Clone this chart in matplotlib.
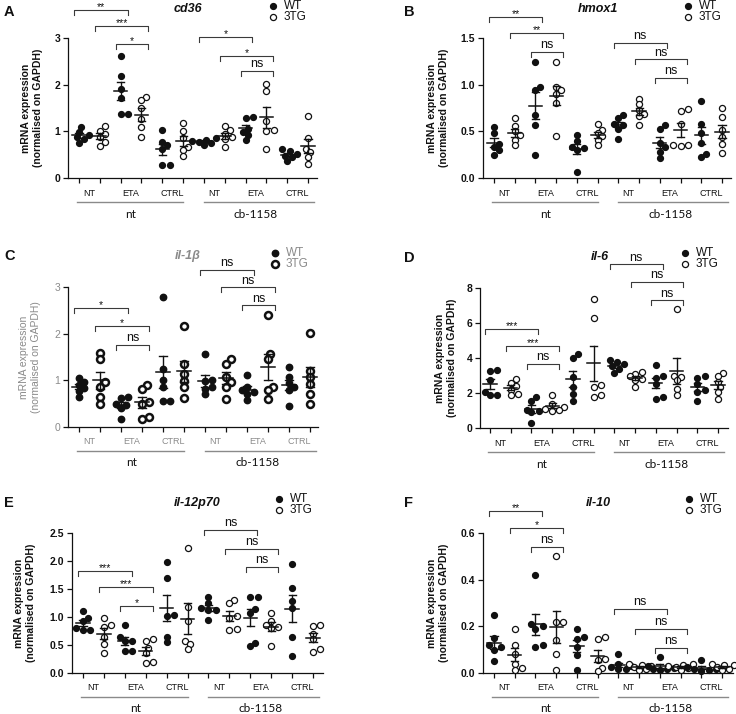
import matplotlib
matplotlib.use('Agg')
import matplotlib.pyplot as plt
import numpy as np

plt.rcParams['font.family'] = ['Liberation Sans', 'DejaVu Sans']

W, H = 736, 714

# ---------------- data ----------------
conditions = ['NT', 'ETA', 'CTRL']
treatments = ['nt', 'cb-1158']
genotypes = ['WT', '3TG']
ylabel_text = 'mRNA expression\n(normalised on GAPDH)'

# 12 groups: nt(NT WT, NT 3TG, ETA WT, ETA 3TG, CTRL WT, CTRL 3TG), cb-1158 (same order)
cd36 = [[1.10, 0.99, 0.93, 0.88, 0.83, 0.74],
        [1.11, 1.01, 0.95, 0.87, 0.78, 0.68],
        [2.62, 2.19, 1.90, 1.72, 1.37, 1.37],
        [1.74, 1.67, 1.49, 1.26, 1.10, 0.87],
        [1.03, 0.78, 0.70, 0.63, 0.27, 0.27],
        [1.17, 1.01, 0.85, 0.67, 0.60, 0.47],
        [0.85, 0.82, 0.80, 0.78, 0.75, 0.70],
        [1.11, 1.03, 0.95, 0.87, 0.83, 0.67],
        [1.31, 1.28, 1.06, 0.99, 0.92, 0.81],
        [2.02, 1.87, 1.23, 1.03, 1.01, 0.63],
        [0.62, 0.58, 0.52, 0.48, 0.45, 0.37],
        [1.33, 0.85, 0.63, 0.56, 0.45, 0.29]]

hmox1 = [[0.55, 0.48, 0.36, 0.33, 0.30, 0.25],
         [0.64, 0.56, 0.50, 0.46, 0.41, 0.35],
         [1.24, 0.98, 0.94, 0.67, 0.57, 0.25],
         [1.24, 0.97, 0.94, 0.90, 0.80, 0.45],
         [0.46, 0.40, 0.33, 0.32, 0.30, 0.065],
         [0.58, 0.51, 0.48, 0.45, 0.41, 0.35],
         [0.67, 0.64, 0.58, 0.57, 0.53, 0.42],
         [0.85, 0.79, 0.73, 0.69, 0.66, 0.57],
         [0.57, 0.52, 0.37, 0.33, 0.28, 0.21],
         [0.74, 0.72, 0.58, 0.35, 0.35, 0.34],
         [0.83, 0.58, 0.48, 0.37, 0.26, 0.23],
         [0.75, 0.65, 0.51, 0.44, 0.36, 0.27]]

il1b = [[1.05, 0.97, 0.90, 0.84, 0.78, 0.64],
        [1.59, 1.46, 0.96, 0.86, 0.64, 0.49],
        [0.64, 0.62, 0.50, 0.47, 0.40, 0.18],
        [0.91, 0.82, 0.54, 0.50, 0.21, 0.18],
        [2.79, 1.25, 1.00, 0.86, 0.56, 0.56],
        [2.16, 1.36, 1.14, 0.99, 0.86, 0.63],
        [1.56, 1.00, 0.99, 0.86, 0.82, 0.70],
        [1.46, 1.36, 1.07, 0.96, 0.86, 0.61],
        [1.11, 0.86, 0.79, 0.75, 0.71, 0.57],
        [2.41, 1.57, 1.46, 0.86, 0.79, 0.59],
        [1.29, 1.07, 0.94, 0.86, 0.79, 0.46],
        [2.01, 1.21, 1.07, 0.93, 0.71, 0.50]]

il6 = [[3.30, 3.24, 2.72, 2.06, 1.87, 1.87],
       [2.80, 2.60, 2.40, 2.20, 1.92, 1.87],
       [1.75, 1.55, 1.05, 0.95, 0.90, 0.28],
       [1.90, 1.39, 1.20, 1.10, 1.01, 0.97],
       [4.25, 4.02, 2.91, 2.34, 1.92, 1.52],
       [7.39, 6.30, 2.44, 2.34, 1.90, 1.77],
       [3.90, 3.77, 3.64, 3.52, 3.39, 3.14],
       [3.20, 3.10, 2.95, 2.82, 2.76, 2.34],
       [3.58, 3.00, 2.88, 2.53, 1.77, 1.68],
       [6.82, 3.00, 2.91, 2.72, 2.25, 1.87],
       [2.95, 2.88, 2.53, 2.15, 2.06, 1.52],
       [3.14, 3.00, 2.63, 2.34, 2.06, 1.68]]

il12p70 = [[1.11, 0.99, 0.92, 0.80, 0.77, 0.77],
           [0.99, 0.86, 0.82, 0.65, 0.51, 0.36],
           [0.85, 0.64, 0.58, 0.57, 0.40, 0.39],
           [0.60, 0.57, 0.45, 0.36, 0.20, 0.18],
           [1.98, 1.70, 1.04, 1.01, 0.65, 0.55],
           [2.23, 1.17, 0.93, 0.57, 0.51, 0.42],
           [1.35, 1.25, 1.16, 1.13, 1.13, 0.94],
           [1.31, 1.25, 1.01, 0.98, 0.78, 0.76],
           [1.35, 1.35, 1.14, 1.08, 0.54, 0.48],
           [1.07, 0.92, 0.86, 0.83, 0.80, 0.48],
           [1.95, 1.52, 1.29, 1.16, 0.65, 0.30],
           [0.85, 0.84, 0.70, 0.60, 0.42, 0.38]]

il10 = [[0.25, 0.15, 0.12, 0.11, 0.10, 0.05],
        [0.19, 0.12, 0.083, 0.04, 0.02, 0.012],
        [0.42, 0.21, 0.20, 0.19, 0.12, 0.11],
        [0.50, 0.22, 0.22, 0.14, 0.083, 0.014],
        [0.19, 0.155, 0.145, 0.11, 0.076, 0.012],
        [0.155, 0.145, 0.062, 0.055, 0.02, 0.007],
        [0.08, 0.04, 0.03, 0.026, 0.019, 0.016],
        [0.04, 0.036, 0.03, 0.026, 0.019, 0.012],
        [0.07, 0.03, 0.022, 0.019, 0.016, 0.012],
        [0.04, 0.036, 0.03, 0.026, 0.022, 0.012],
        [0.055, 0.026, 0.019, 0.016, 0.012, 0.007],
        [0.04, 0.036, 0.033, 0.026, 0.019, 0.012]]

# brackets: (group i, group j, label, height in data units)
cd36_brackets = [(0, 2, '**', 3.61), (1, 3, '***', 3.25), (2, 3, '*', 2.87),
                 (6, 8, '*', 3.02), (7, 9, '*', 2.61), (8, 9, 'ns', 2.30)]
hmox1_brackets = [(0, 2, '**', 1.73), (1, 3, '**', 1.55), (2, 3, 'ns', 1.35),
                  (6, 8, 'ns', 1.45), (7, 9, 'ns', 1.27), (8, 9, 'ns', 1.07)]
il1b_brackets = [(0, 2, '*', 2.54), (1, 3, '*', 2.16), (2, 3, 'ns', 1.76),
                 (6, 8, 'ns', 3.37), (7, 9, 'ns', 2.99), (8, 9, 'ns', 2.61)]
il6_brackets = [(0, 2, '***', 5.68), (1, 3, '***', 4.67), (2, 3, 'ns', 3.68),
                (6, 8, 'ns', 9.35), (7, 9, 'ns', 8.34), (8, 9, 'ns', 7.30)]
il12p70_brackets = [(0, 2, '***', 1.83), (1, 3, '***', 1.53), (2, 3, '*', 1.19),
                    (6, 8, 'ns', 2.56), (7, 9, 'ns', 2.22), (8, 9, 'ns', 1.89)]
il10_brackets = [(0, 2, '**', 0.696), (1, 3, '*', 0.62), (2, 3, 'ns', 0.54),
                 (6, 8, 'ns', 0.274), (7, 9, 'ns', 0.188), (8, 9, 'ns', 0.108)]

cd36_ticks = [0, 1, 2, 3]
hmox1_ticks = [0.0, 0.5, 1.0, 1.5]
il1b_ticks = [0, 1, 2, 3]
il6_ticks = [0, 2, 4, 6, 8]
il12p70_ticks = [0.0, 0.5, 1.0, 1.5, 2.0, 2.5]
il10_ticks = [0.0, 0.2, 0.4, 0.6]

# ---------------- layout ----------------
panels = [
    dict(letter='A', title='cd36', data=cd36, br=cd36_brackets, ticks=cd36_ticks, fmt='{:.0f}',
         box=(68, 38, 317, 178), t=(79, 308), letter_xy=(4, 12), title_xy=(188, 9),
         leg_xy=(273, 6), ylab_dx=-36, garbled=False),
    dict(letter='B', title='hmox1', data=hmox1, br=hmox1_brackets, ticks=hmox1_ticks, fmt='{:.1f}',
         box=(483, 38, 731, 178), t=(494, 722), letter_xy=(404, 12), title_xy=(598, 9),
         leg_xy=(688, 6), ylab_dx=-45, garbled=False),
    dict(letter='C', title='il-1β', data=il1b, br=il1b_brackets, ticks=il1b_ticks, fmt='{:.0f}',
         box=(68, 287, 318, 427), t=(79, 310), letter_xy=(4, 256), title_xy=(188, 256),
         leg_xy=(275, 253), ylab_dx=-38, garbled=True),
    dict(letter='D', title='il-6', data=il6, br=il6_brackets, ticks=il6_ticks, fmt='{:.0f}',
         box=(480, 288, 728, 428), t=(490, 718), letter_xy=(404, 258), title_xy=(600, 257),
         leg_xy=(685, 253), ylab_dx=-34, garbled=False),
    dict(letter='E', title='il-12p70', data=il12p70, br=il12p70_brackets, ticks=il12p70_ticks,
         fmt='{:.1f}', box=(72, 533, 323, 673), t=(83, 313), letter_xy=(4, 503),
         title_xy=(197, 503), leg_xy=(279, 499), ylab_dx=-47, garbled=False),
    dict(letter='F', title='il-10', data=il10, br=il10_brackets, ticks=il10_ticks, fmt='{:.1f}',
         box=(483, 533, 733, 673), t=(494, 722), letter_xy=(404, 503), title_xy=(598, 503),
         leg_xy=(689, 499), ylab_dx=-45, garbled=False),
]

fig = plt.figure(figsize=(W / 100, H / 100), dpi=100)
ov = fig.add_axes([0, 0, 1, 1])
ov.set_xlim(0, W)
ov.set_ylim(H, 0)
ov.axis('off')
ov.patch.set_alpha(0)

INK = '#111111'
BR = '#3a3a3a'
GRAY = '#8a8a8a'


def swarm(vals, ppu_x, ppu_y, d):
    vals = np.asarray(vals, float)
    order = np.argsort(vals)
    placed = []
    offs = np.zeros(len(vals))
    cands = [0.0]
    for k in range(1, 12):
        cands += [k * d * 0.45, -k * d * 0.45]
    for idx in order:
        y = vals[idx] * ppu_y
        for c in cands:
            if all((c - px) ** 2 + (y - py) ** 2 >= d * d for px, py in placed):
                break
        placed.append((c, y))
        offs[idx] = c / ppu_x
    return offs


for p in panels:
    L, T, R, B = p['box']
    t0, t11 = p['t']
    ax = fig.add_axes([L / W, 1 - B / H, (R - L) / W, (B - T) / H])
    ax.patch.set_alpha(0)
    ppu_x = (t11 - t0) / 11.0
    xmin = -(t0 - L) / ppu_x
    xmax = 11 + (R - t11) / ppu_x
    ymax = p['ticks'][-1]
    ax.set_xlim(xmin, xmax)
    ax.set_ylim(0, ymax)
    ppu_y = (B - T) / ymax
    for s in ['top', 'right']:
        ax.spines[s].set_visible(False)
    for s in ['left', 'bottom']:
        ax.spines[s].set_linewidth(0.9)
        ax.spines[s].set_color(INK)
    ax.set_xticks(np.arange(12))
    ax.set_xticklabels([])
    ax.set_yticks(p['ticks'])
    tick_col = GRAY if p['garbled'] else INK
    ax.set_yticklabels([p['fmt'].format(v) for v in p['ticks']], fontsize=7.5,
                       fontweight='normal' if p['garbled'] else 'bold', color=tick_col)
    ax.tick_params(axis='both', direction='out', length=3.5, width=0.9, color=INK, pad=2)

    ms_f = 4.6 if p['garbled'] else 4.2
    ms_o = 5.0 if p['garbled'] else 4.4
    mew_o = 1.8 if p['garbled'] else 0.9
    for g, vals in enumerate(p['data']):
        vals = np.asarray(vals, float)
        offs = swarm(vals, ppu_x, ppu_y, 5.4)
        x = g + offs
        if g % 2 == 0:
            ax.plot(x, vals, 'o', ms=ms_f, color=INK, mec=INK, clip_on=False, zorder=3)
        else:
            ax.plot(x, vals, 'o', ms=ms_o, mfc='white', mec=INK, mew=mew_o, clip_on=False, zorder=3)
        m = vals.mean()
        sem = vals.std(ddof=1) / np.sqrt(len(vals))
        ax.plot([g - 0.32, g + 0.32], [m, m], color=INK, lw=1.1, zorder=4, clip_on=False)
        ax.plot([g, g], [m - sem, m + sem], color=INK, lw=1.0, zorder=4, clip_on=False)
        for yy in (m - sem, m + sem):
            ax.plot([g - 0.17, g + 0.17], [yy, yy], color=INK, lw=1.0, zorder=4, clip_on=False)

    drop = 5.0 / ppu_y
    for (i, j, lab, yb) in p['br']:
        xl, xr = i - 0.22, j + 0.33
        ax.plot([xl, xl, xr, xr], [yb - drop, yb, yb, yb - drop], color=BR, lw=0.8,
                clip_on=False, zorder=2)
        if lab == 'ns':
            ax.annotate(lab, ((xl + xr) / 2, yb), xytext=(0, 0.5), textcoords='offset points',
                        ha='center', va='bottom', fontsize=9, color=INK, annotation_clip=False)
        else:
            ax.annotate(lab, ((xl + xr) / 2, yb), xytext=(0, -1.5), textcoords='offset points',
                        ha='center', va='bottom', fontsize=7.5, color=INK, annotation_clip=False)

    # y label
    ylab_col = GRAY if p['garbled'] else INK
    ov.text(L + p['ylab_dx'], (T + B) / 2, ylabel_text, rotation=90, ha='center', va='center',
            fontsize=7.5, fontweight='normal' if p['garbled'] else 'bold', color=ylab_col,
            linespacing=1.15)

    # categories below axis
    cat_col = GRAY if p['garbled'] else INK
    for tr in range(2):
        for c in range(3):
            xc = t0 + (tr * 6 + 2 * c + 0.5) * ppu_x
            ov.text(xc, B + 15, conditions[c], ha='center', va='center', fontsize=6.5, color=cat_col)
        x_a = t0 + (tr * 6 - 0.1 + (0.1 if tr else 0)) * ppu_x
        x_b = t0 + (tr * 6 + 5.0 + (0.3 if tr else 0)) * ppu_x
        ov.plot([x_a, x_b], [B + 23.5, B + 23.5], color=GRAY, lw=1.0)
        ov.text(t0 + (tr * 6 + 2.5) * ppu_x, B + 36, treatments[tr], ha='center', va='center',
                fontsize=8.5, color=INK, family=['Lato', 'DejaVu Sans'])

    # panel letter and title
    ov.text(p['letter_xy'][0], p['letter_xy'][1], p['letter'], ha='left', va='center',
            fontsize=10.5, fontweight='bold', color=INK)
    title_col = GRAY if p['garbled'] else INK
    ov.text(p['title_xy'][0], p['title_xy'][1], p['title'], ha='center', va='center',
            fontsize=9, fontweight='bold', fontstyle='italic', color=title_col)

    # legend
    lx, ly = p['leg_xy']
    ov.plot([lx], [ly], 'o', ms=ms_f, color=INK)
    ov.plot([lx], [ly + 11], 'o', ms=ms_o, mfc='white', mec=INK, mew=mew_o)
    leg_col = GRAY if p['garbled'] else INK
    ov.text(lx + 11, ly, genotypes[0], ha='left', va='center', fontsize=8.5, color=leg_col)
    ov.text(lx + 11, ly + 11, genotypes[1], ha='left', va='center', fontsize=8.5, color=leg_col)

fig.savefig('out.png', dpi=100)
